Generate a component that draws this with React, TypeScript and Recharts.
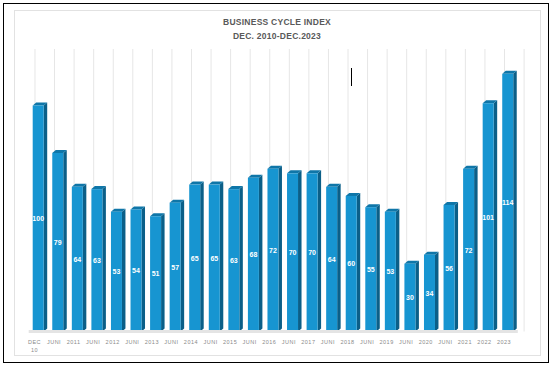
import React from 'react';
import { BarChart, Bar, XAxis, YAxis, CartesianGrid, LabelList } from 'recharts';

const categories = ['DEC 10', 'JUNI', '2011', 'JUNI', '2012', 'JUNI', '2013', 'JUNI', '2014', 'JUNI', '2015', 'JUNI', '2016', 'JUNI', '2017', 'JUNI', '2018', 'JUNI', '2019', 'JUNI', '2020', 'JUNI', '2021', '2022', '2023'];
const values = [100, 79, 64, 63, 53, 54, 51, 57, 65, 65, 63, 68, 72, 70, 70, 64, 60, 55, 53, 30, 34, 56, 72, 101, 114];
const titleLines = ['BUSINESS CYCLE INDEX', 'DEC. 2010-DEC.2023'];

const data = categories.map((c, i) => ({ name: c, value: values[i] }));

const DEPTH_X = 3.5;
const DEPTH_Y = 3;

const Bar3D = (props: any) => {
  const { x, y, width, height } = props;
  if (height == null || height <= 0) return null;
  const dx = DEPTH_X;
  const dy = DEPTH_Y;
  return (
    <g>
      <polygon
        points={`${x + width},${y} ${x + width + dx},${y - dy} ${x + width + dx},${y + height - dy} ${x + width},${y + height}`}
        fill="#0b5f88"
      />
      <polygon
        points={`${x},${y} ${x + dx},${y - dy} ${x + width + dx},${y - dy} ${x + width},${y}`}
        fill="#0f76a8"
      />
      <rect x={x} y={y} width={width} height={height} fill="#1795d1" />
    </g>
  );
};

const Tick = (props: any) => {
  const { x, y, payload } = props;
  const parts = String(payload.value).split(' ');
  return (
    <text
      x={x - 4}
      y={y + 12.5}
      textAnchor="middle"
      fill="#8a8a8a"
      fontSize={5.5}
      letterSpacing={0.5}
      fontFamily="'Liberation Sans', Arial, sans-serif"
    >
      {parts.map((p, i) => (
        <tspan key={i} x={x - 4} dy={i === 0 ? 0 : 7.5}>
          {p}
        </tspan>
      ))}
    </text>
  );
};

export default function App() {
  return (
    <div style={{ position: 'absolute', left: 0, top: 0, width: 556, height: 370, background: '#ffffff' }}>
      <svg width={556} height={370} style={{ position: 'absolute', left: 0, top: 0 }}>
        <rect x={3.5} y={3.5} width={545} height={359} fill="none" stroke="#000000" strokeWidth={1} />
        <rect x={14.5} y={10.5} width={526} height={345} fill="none" stroke="#e2e2e2" strokeWidth={1} />
      </svg>
      <div style={{ position: 'absolute', left: 0, top: 0 }}>
        <BarChart
          width={556}
          height={370}
          data={data}
          margin={{ top: 49, right: 38.2, bottom: 18.5, left: 28.7 }}
          barCategoryGap={0}
        >
          <CartesianGrid
            horizontal={false}
            stroke="#e6e6e6"
            verticalCoordinatesGenerator={({ offset }: any) => {
              const band = offset.width / categories.length;
              const out: number[] = [];
              for (let i = 0; i <= categories.length; i++) {
                out.push(offset.left + band * (i + 0.5) - 3.5);
              }
              return out;
            }}
          />
          <XAxis
            dataKey="name"
            interval={0}
            height={20}
            tickLine={false}
            tickSize={0}
            tickMargin={0}
            axisLine={{ stroke: '#e4e4e4', strokeWidth: 3 }}
            tick={<Tick />}
          />
          <YAxis hide domain={[0, 125]} />
          <Bar dataKey="value" barSize={11} isAnimationActive={false} shape={<Bar3D />}>
            <LabelList
              dataKey="value"
              position="center"
              fill="#ffffff"
              fontSize={7}
              fontWeight="bold"
              fontFamily="'Liberation Sans', Arial, sans-serif"
            />
          </Bar>
        </BarChart>
      </div>
      <svg width={556} height={370} style={{ position: 'absolute', left: 0, top: 0, pointerEvents: 'none' }}>
        {titleLines.map((t, i) => (
          <text
            key={i}
            x={277}
            y={25 + i * 14}
            textAnchor="middle"
            fill="#595959"
            fontSize={8.5}
            fontWeight="bold"
            letterSpacing={0.25}
            fontFamily="'Liberation Sans', Arial, sans-serif"
          >
            {t}
          </text>
        ))}
        <line x1={351.5} y1={68} x2={351.5} y2={86} stroke="#000000" strokeWidth={1} />
      </svg>
    </div>
  );
}
